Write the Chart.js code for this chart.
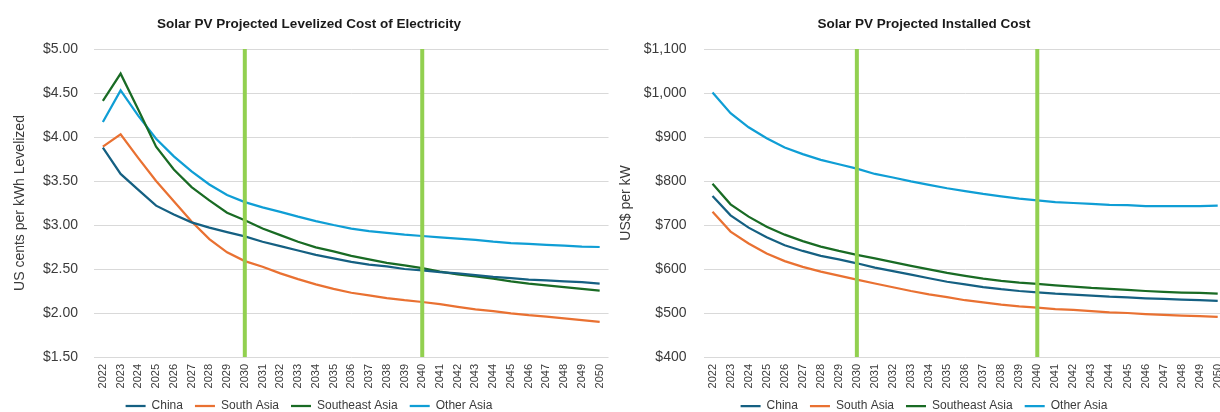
<!DOCTYPE html>
<html>
<head>
<meta charset="utf-8">
<script src="https://cdn.jsdelivr.net/npm/chart.js@4.4.1/dist/chart.umd.min.js"></script>
<style>
  html, body { margin: 0; padding: 0; background: #fff; overflow: hidden; }
  #stage { position: relative; width: 1220px; height: 412px; overflow: hidden; background: #fff; }
  #lcoe { position: absolute; left: 0; top: 0; }
  #capex { position: absolute; left: 610px; top: 0; }
</style>
</head>
<body>
<div id="stage">
  <canvas id="lcoe" width="620" height="422"></canvas>
  <canvas id="capex" width="628" height="422"></canvas>
</div>
<script>
// Projection years shared by both panels
const years = ['2022','2023','2024','2025','2026','2027','2028','2029','2030',
  '2031','2032','2033','2034','2035','2036','2037','2038','2039','2040',
  '2041','2042','2043','2044','2045','2046','2047','2048','2049','2050'];

// Milestone years highlighted with a vertical bar
const markerYears = ['2030', '2040'];

// Levelized cost of electricity, US cents per kWh
const lcoeChina = [3.88, 3.58, 3.40, 3.22, 3.12, 3.03, 2.97, 2.92, 2.87,
  2.81, 2.76, 2.71, 2.66, 2.62, 2.58, 2.55, 2.53, 2.50, 2.485,
  2.465, 2.45, 2.43, 2.41, 2.395, 2.38, 2.37, 2.36, 2.35, 2.335];
const lcoeSouthAsia = [3.89, 4.03, 3.76, 3.50, 3.27, 3.04, 2.84, 2.69, 2.59,
  2.525, 2.45, 2.385, 2.325, 2.275, 2.23, 2.20, 2.17, 2.145, 2.125,
  2.10, 2.07, 2.04, 2.02, 1.995, 1.975, 1.96, 1.94, 1.92, 1.90];
const lcoeSoutheastAsia = [4.41, 4.72, 4.31, 3.89, 3.63, 3.43, 3.28, 3.14, 3.055,
  2.96, 2.885, 2.81, 2.745, 2.70, 2.65, 2.61, 2.57, 2.54, 2.51,
  2.47, 2.44, 2.415, 2.39, 2.36, 2.335, 2.315, 2.295, 2.275, 2.255];
const lcoeOtherAsia = [4.17, 4.53, 4.24, 3.98, 3.78, 3.61, 3.46, 3.34, 3.26,
  3.20, 3.15, 3.095, 3.045, 3.00, 2.96, 2.93, 2.91, 2.89, 2.875,
  2.86, 2.845, 2.83, 2.81, 2.795, 2.785, 2.775, 2.765, 2.755, 2.75];

// Installed cost, US$ per kW
const capexChina = [766, 722, 694, 672, 654, 641, 630, 622, 613,
  603, 595, 587, 579, 571, 565, 559, 554, 550, 547,
  544, 542, 539.5, 537, 535.5, 533.5, 532, 530.5, 529, 527.5];
const capexSouthAsia = [730, 685, 658, 635, 618, 605, 594, 585, 576,
  567, 558.5, 550, 542.5, 536, 529, 524, 519, 515, 512,
  509, 507, 504, 501.5, 500, 497.5, 495.5, 494, 493, 491];
const capexSoutheastAsia = [794, 747, 719, 696, 678, 663.5, 651, 641, 632,
  624, 615.5, 607, 599, 591, 584.5, 578, 573, 569, 566,
  563, 560, 557, 555, 552.5, 550, 548, 546.5, 545.5, 544];
const capexOtherAsia = [1001, 954, 922, 897, 876, 861, 848, 838, 828,
  816, 808, 799, 791, 783.5, 777, 770.5, 765, 760, 756,
  752, 750, 748, 746, 745, 743, 743, 743, 743, 744];

const seriesNames = ['China', 'South Asia', 'Southeast Asia', 'Other Asia'];
const seriesColors = ['#156082', '#E97132', '#196B24', '#0F9ED5'];

const TEXT = '#3b3b3b';
const SANS = "'Liberation Sans', Arial, sans-serif";

// Vertical milestone bars drawn on top of the series
const milestonePlugin = {
  id: 'milestones',
  afterDatasetsDraw(chart) {
    const {ctx, chartArea, scales: {x}} = chart;
    ctx.save();
    ctx.strokeStyle = '#92D050';
    ctx.lineWidth = 4;
    markerYears.forEach(yr => {
      const px = x.getPixelForValue(years.indexOf(yr));
      ctx.beginPath();
      ctx.moveTo(px, chartArea.top);
      ctx.lineTo(px, chartArea.bottom);
      ctx.stroke();
    });
    ctx.restore();
  }
};

function buildChart(canvasId, cfg) {
  const datasets = cfg.series.map((data, i) => ({
    label: seriesNames[i],
    data: data,
    borderColor: seriesColors[i],
    backgroundColor: seriesColors[i],
    borderWidth: 2.25,
    pointRadius: 0,
    tension: 0
  }));
  return new Chart(document.getElementById(canvasId), {
    type: 'line',
    data: { labels: years, datasets },
    plugins: [milestonePlugin],
    options: {
      responsive: false,
      animation: false,
      layout: { padding: { left: cfg.padLeft, right: cfg.padRight, top: 0, bottom: 0 } },
      plugins: {
        title: {
          display: true,
          text: cfg.title,
          color: '#1a1a1a',
          font: { family: SANS, size: 13.5, weight: 'bold' },
          padding: { top: 15.9, bottom: 16.9 }
        },
        legend: {
          position: 'bottom',
          labels: {
            usePointStyle: true,
            pointStyle: 'line',
            pointStyleWidth: 20,
            boxHeight: 12,
            padding: 12,
            color: TEXT,
            font: { family: SANS, size: 12 }
          }
        },
        tooltip: { enabled: false }
      },
      scales: {
        x: {
          offset: true,
          grid: { display: false, drawTicks: false },
          border: { display: false },
          ticks: {
            autoSkip: false,
            minRotation: 90,
            maxRotation: 90,
            padding: 7,
            color: TEXT,
            font: { family: SANS, size: 11 }
          },
          afterFit(scale) { scale.height = 31; }
        },
        y: {
          min: cfg.min,
          max: cfg.max,
          grid: { color: '#d9d9d9', lineWidth: 1, drawTicks: false },
          border: { display: false },
          ticks: {
            stepSize: cfg.step,
            padding: cfg.tickPad,
            color: TEXT,
            font: { family: SANS, size: 14 },
            callback: cfg.format
          },
          title: {
            display: true,
            text: cfg.yTitle,
            color: TEXT,
            font: { family: SANS, size: 14 },
            padding: { top: cfg.titlePad, bottom: 0 }
          },
          afterFit(scale) { scale.width = 88; }
        }
      }
    }
  });
}

buildChart('lcoe', {
  title: 'Solar PV Projected Levelized Cost of Electricity',
  yTitle: 'US cents per kWh Levelized',
  series: [lcoeChina, lcoeSouthAsia, lcoeSoutheastAsia, lcoeOtherAsia],
  min: 1.5, max: 5, step: 0.5,
  format: v => '$' + Number(v).toFixed(2),
  padLeft: 6, padRight: 8, tickPad: 16, titlePad: 6
});

buildChart('capex', {
  title: 'Solar PV Projected Installed Cost',
  yTitle: 'US$ per kW',
  series: [capexChina, capexSouthAsia, capexSoutheastAsia, capexOtherAsia],
  min: 400, max: 1100, step: 100,
  format: v => '$' + Number(v).toLocaleString('en-US'),
  padLeft: 5.5, padRight: 5.5, tickPad: 17, titlePad: 2
});
</script>
</body>
</html>
